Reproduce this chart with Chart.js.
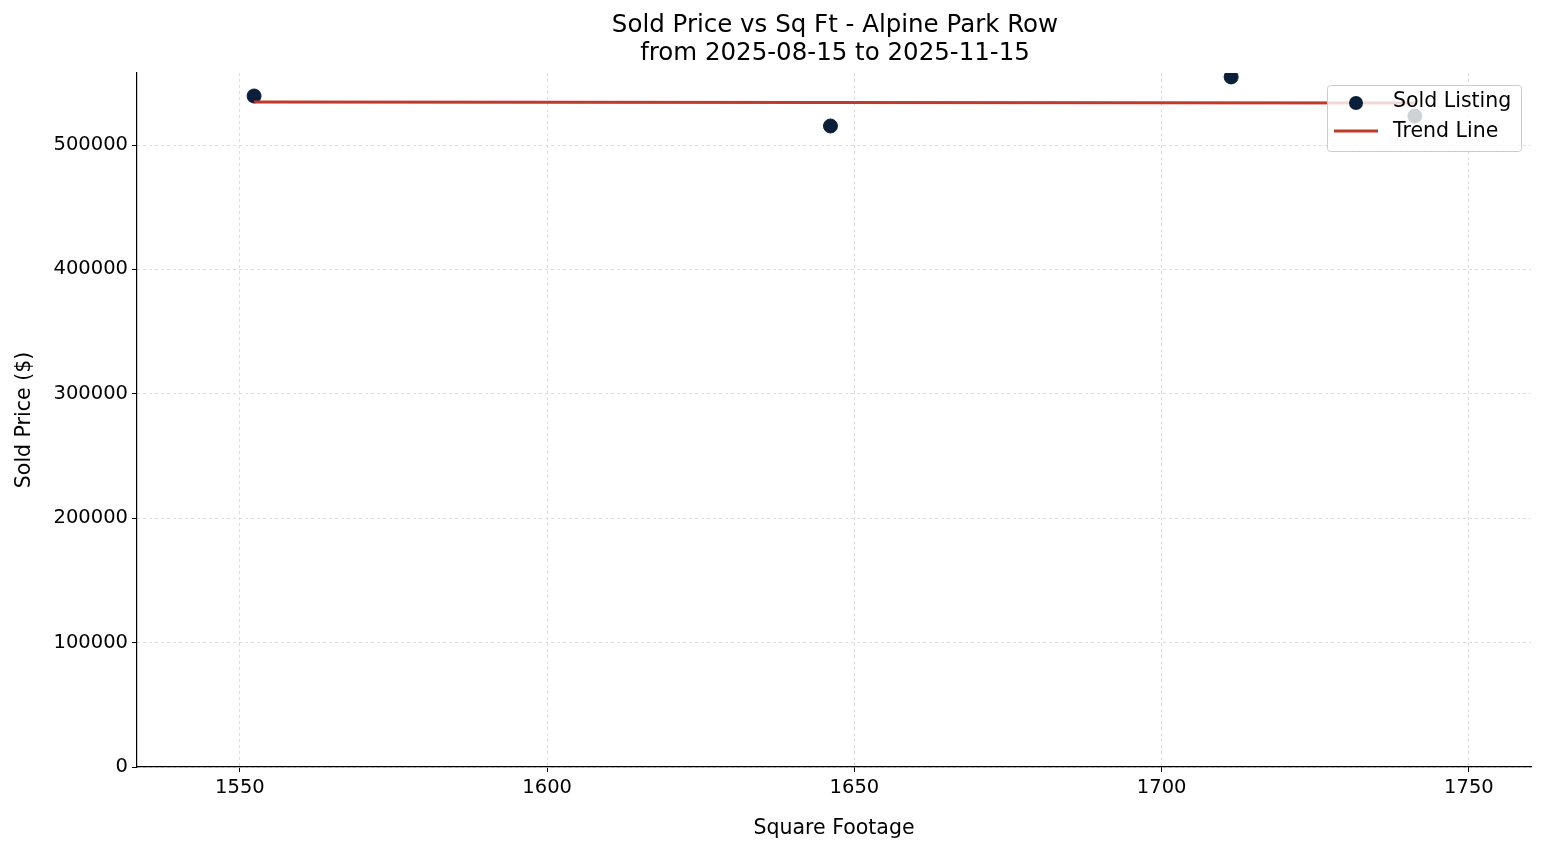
<!DOCTYPE html>
<html>
<head>
<meta charset="utf-8">
<script src="https://cdn.jsdelivr.net/npm/chart.js@4/dist/chart.umd.min.js"></script>
<style>
  html, body { margin: 0; padding: 0; background: #fff; }
  #wrap { width: 1547px; height: 845px; }
</style>
</head>
<body>
<div id="wrap"><canvas id="chart"></canvas></div>
<script>
// DATA
const sqFt = [1552.3, 1646.1, 1711.3, 1741.2];
const soldPrice = [539400, 515300, 554700, 523300];
const trendX = [1552.3, 1741.2];
const trendY = [534570, 533760];
const xTicks = [1550, 1600, 1650, 1700, 1750];
const yTicks = [0, 100000, 200000, 300000, 400000, 500000];

const FONT = "'DejaVu Sans', sans-serif";
Chart.defaults.font.family = FONT;
Chart.defaults.color = "#000";

// titles + legend drawn by hand, matplotlib style
const decor = {
  id: "decor",
  afterDraw(chart) {
    const ctx = chart.ctx;
    ctx.save();
    ctx.fillStyle = "#000";
    ctx.textAlign = "center";
    ctx.textBaseline = "middle";
    ctx.font = "24.5px " + FONT;
    ctx.fillText("Sold Price vs Sq Ft - Alpine Park Row", 835, 26);
    ctx.fillText("from 2025-08-15 to 2025-11-15", 835, 54);

    // legend
    ctx.fillStyle = "rgba(255,255,255,0.8)";
    ctx.strokeStyle = "#ccc";
    ctx.lineWidth = 1;
    ctx.beginPath();
    ctx.roundRect(1327.5, 85.5, 194, 66, 3);
    ctx.fill();
    ctx.stroke();
    ctx.fillStyle = "#0b1f3a";
    ctx.beginPath();
    ctx.arc(1356, 103, 7, 0, Math.PI * 2);
    ctx.fill();
    ctx.strokeStyle = "#c0392b";
    ctx.lineWidth = 3;
    ctx.beginPath();
    ctx.moveTo(1334, 131);
    ctx.lineTo(1378, 131);
    ctx.stroke();
    ctx.fillStyle = "#000";
    ctx.textAlign = "left";
    ctx.font = "20.5px " + FONT;
    ctx.fillText("Sold Listing", 1393, 102);
    ctx.fillText("Trend Line", 1393, 132);
    ctx.restore();
  }
};

new Chart(document.getElementById("chart"), {
  type: "scatter",
  data: {
    datasets: [
      {
        label: "Sold Listing",
        data: sqFt.map((x, i) => ({ x, y: soldPrice[i] })),
        backgroundColor: "#0b1f3a",
        borderColor: "#0b1f3a",
        pointRadius: 7,
        pointHoverRadius: 7,
        order: 2,
      },
      {
        type: "line",
        label: "Trend Line",
        data: trendX.map((x, i) => ({ x, y: trendY[i] })),
        borderColor: "#c0392b",
        borderWidth: 3,
        pointRadius: 0,
        fill: false,
        order: 1,
      },
    ],
  },
  options: {
    responsive: true,
    maintainAspectRatio: false,
    animation: false,
    layout: { padding: { top: 73, right: 16, left: 8, bottom: 0 } },
    plugins: { legend: { display: false }, title: { display: false }, tooltip: { enabled: false } },
    scales: {
      x: {
        type: "linear",
        min: 1533.25,
        max: 1760.1,
        afterBuildTicks: (s) => { s.ticks = xTicks.map((v) => ({ value: v })); },
        afterFit: (s) => { s.height = 78; },
        ticks: { font: { size: 19.5 }, padding: 4, callback: (v) => String(v) },
        grid: { color: "#ddd", tickColor: "#000", tickLength: 5 },
        border: { display: true, color: "#000", width: 1.2, dash: [3, 3] },
        title: { display: true, text: "Square Footage", font: { size: 20.5 }, padding: { top: 0 } },
      },
      y: {
        min: 0,
        max: 557880,
        afterBuildTicks: (s) => { s.ticks = yTicks.map((v) => ({ value: v })); },
        afterFit: (s) => { s.width = 129; },
        ticks: { font: { size: 19.5 }, padding: 4, callback: (v) => String(v) },
        grid: { color: "#ddd", tickColor: "#000", tickLength: 5 },
        border: { display: true, color: "#000", width: 1.2, dash: [3, 3] },
        title: { display: true, text: "Sold Price ($)", font: { size: 20.5 }, padding: { bottom: 0 } },
      },
    },
  },
  plugins: [decor],
});
</script>
</body>
</html>
